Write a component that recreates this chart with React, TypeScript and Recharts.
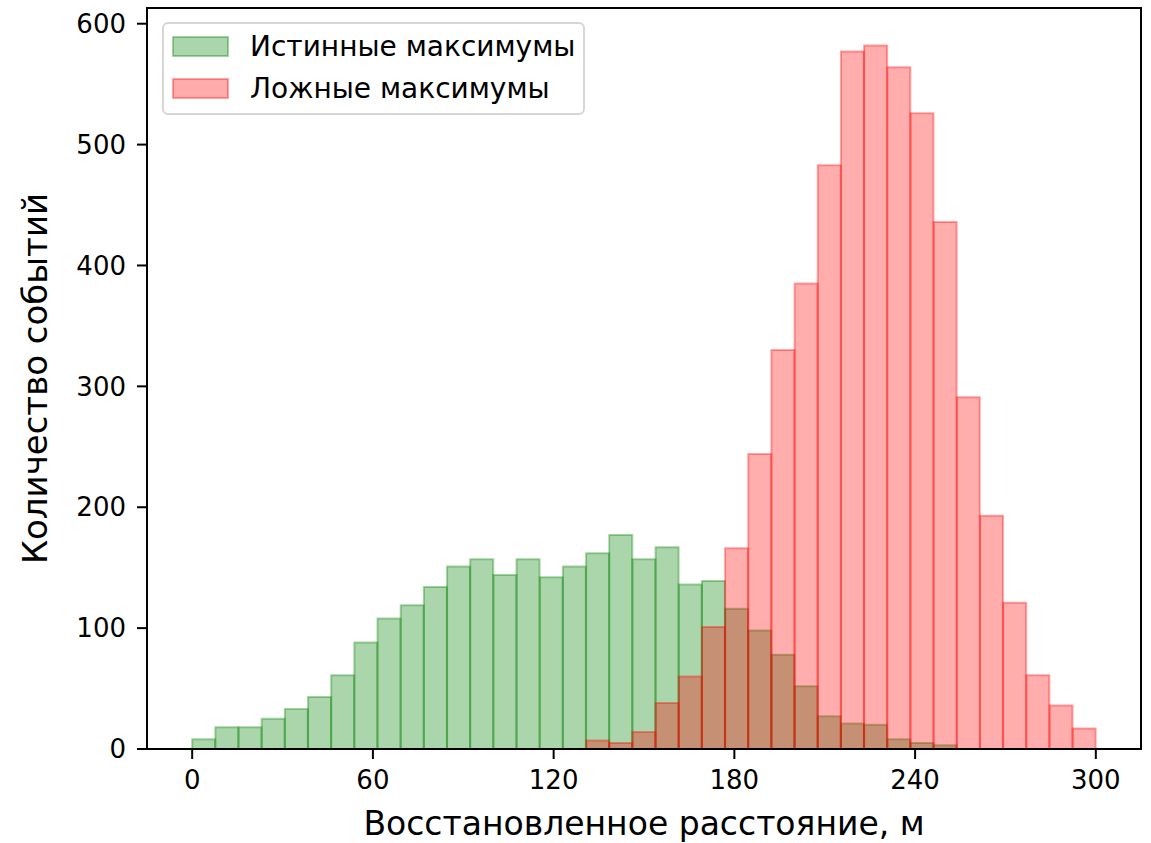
import { ComposedChart, Bar, XAxis, YAxis, Legend, ReferenceArea } from "recharts";

// centres of the 39 histogram bins (0..300 m)
const binCenters = [
  3.85, 11.54, 19.23, 26.92, 34.62, 42.31, 50.0, 57.69, 65.38, 73.08,
  80.77, 88.46, 96.15, 103.85, 111.54, 119.23, 126.92, 134.62, 142.31, 150.0,
  157.69, 165.38, 173.08, 180.77, 188.46, 196.15, 203.85, 211.54, 219.23, 226.92,
  234.62, 242.31, 250.0, 257.69, 265.38, 273.08, 280.77, 288.46, 296.15,
];

const trueCounts = [
  8, 18, 18, 25, 33, 43, 61, 88, 108, 119,
  134, 151, 157, 144, 157, 142, 151, 162, 177, 157,
  167, 136, 139, 116, 98, 78, 52, 27, 21, 20,
  8, 5, 3, null, null, null, null, null, null,
];

const falseCounts = [
  null, null, null, null, null, null, null, null, null, null,
  null, null, null, null, null, null, null, 7, 5, 14,
  38, 60, 101, 166, 244, 330, 385, 483, 577, 582,
  564, 526, 436, 291, 193, 121, 61, 36, 17,
];

const xTicks = [0, 60, 120, 180, 240, 300];
const yTicks = [0, 100, 200, 300, 400, 500, 600];

const data = binCenters.map((x, i) => ({
  x,
  trueMax: trueCounts[i],
  falseMax: falseCounts[i],
}));

const FONT = "'DejaVu Sans', sans-serif";

const legendItems = [
  { label: "Истинные максимумы", color: "green" },
  { label: "Ложные максимумы", color: "red" },
];

const renderLegend = () => (
  <div
    style={{
      boxSizing: "border-box",
      width: 423,
      height: 93,
      border: "2px solid #d6d6d6",
      borderRadius: 6,
      background: "rgba(255,255,255,0.8)",
      padding: "2px 0 4px 8px",
      fontFamily: FONT,
      fontSize: 28,
      color: "#000",
    }}
  >
    {legendItems.map((item) => (
      <div key={item.label} style={{ display: "flex", alignItems: "center", height: 41.5 }}>
        <div style={{ position: "relative", width: 57, height: 21, marginRight: 21 }}>
          <svg width={57} height={21} style={{ display: "block" }}>
            <rect x={1} y={1} width={55} height={19} fill={item.color} fillOpacity={0.33} stroke={item.color} strokeOpacity={0.35} strokeWidth={2} />
          </svg>
        </div>
        <span style={{ whiteSpace: "nowrap" }}>{item.label}</span>
      </div>
    ))}
  </div>
);

export default function App() {
  return (
    <div style={{ width: 1151, height: 843, background: "#fff" }}>
      <style>{"body{margin:0}"}</style>
      <ComposedChart
        width={1151}
        height={843}
        data={data}
        margin={{ top: 8, right: 10, left: 0, bottom: 0 }}
        barCategoryGap={0}
        barGap={0}
      >
        <XAxis
          xAxisId="main"
          type="number"
          dataKey="x"
          domain={[-15, 315]}
          allowDataOverflow
          ticks={xTicks}
          height={94}
          tickSize={10}
          tickMargin={12}
          tick={{ fontSize: 26, fill: "#000", fontFamily: FONT }}
          axisLine={{ stroke: "#000", strokeWidth: 2 }}
          tickLine={{ stroke: "#000", strokeWidth: 2 }}
          label={{
            value: "Восстановленное расстояние, м",
            position: "insideBottom",
            offset: 8,
            fontSize: 33,
            fill: "#000",
            fontFamily: FONT,
          }}
        />
        <XAxis xAxisId="over" type="number" dataKey="x" domain={[-15, 315]} allowDataOverflow hide />
        <YAxis
          type="number"
          domain={[0, 613]}
          allowDataOverflow
          ticks={yTicks}
          width={147}
          tickSize={10}
          tickMargin={11}
          tick={{ fontSize: 26, fill: "#000", fontFamily: FONT }}
          axisLine={{ stroke: "#000", strokeWidth: 2 }}
          tickLine={{ stroke: "#000", strokeWidth: 2 }}
          label={{
            value: "Количество событий",
            angle: -90,
            position: "insideLeft",
            offset: 35,
            textAnchor: "middle",
            fontSize: 34,
            fill: "#000",
            fontFamily: FONT,
          }}
        />
        <Bar
          xAxisId="main"
          dataKey="trueMax"
          name="Истинные максимумы"
          fill="green"
          fillOpacity={0.33}
          stroke="green"
          strokeOpacity={0.35}
          strokeWidth={2}
          isAnimationActive={false}
        />
        <Bar
          xAxisId="over"
          dataKey="falseMax"
          name="Ложные максимумы"
          fill="red"
          fillOpacity={0.32}
          stroke="red"
          strokeOpacity={0.35}
          strokeWidth={2}
          isAnimationActive={false}
        />
        <ReferenceArea
          xAxisId="main"
          x1={-15}
          x2={315}
          y1={0}
          y2={613}
          fill="none"
          stroke="#000"
          strokeWidth={2}
          ifOverflow="visible"
        />
        <Legend
          layout="vertical"
          align="center"
          verticalAlign="middle"
          wrapperStyle={{ left: 162, top: 22, width: 423 }}
          content={renderLegend}
        />
      </ComposedChart>
    </div>
  );
}
